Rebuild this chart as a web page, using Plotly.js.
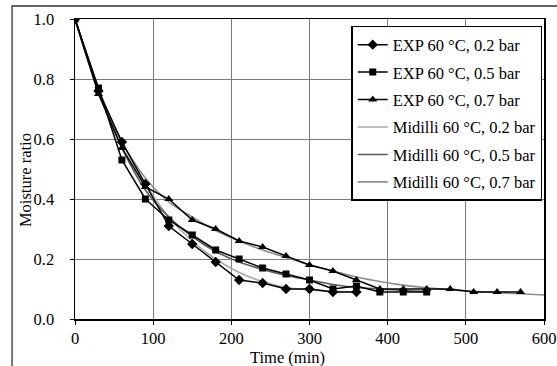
<!DOCTYPE html>
<html>
<head>
<meta charset="utf-8">
<script src="https://cdn.plot.ly/plotly-3.0.1.min.js"></script>
<style>html,body{margin:0;padding:0;background:#fff;}#chart{width:557px;height:366px;}</style>
</head>
<body>
<div id="chart"></div>
<script>
// Experimental data
const tExp02 = [0,30,60,90,120,150,180,210,240,270,300,330,360];
const mrExp02 = [1.0,0.76,0.59,0.45,0.31,0.25,0.19,0.13,0.12,0.10,0.10,0.09,0.09];
const tExp05 = [0,30,60,90,120,150,180,210,240,270,300,330,360,390,420,450];
const mrExp05 = [1.0,0.77,0.53,0.40,0.33,0.28,0.23,0.20,0.17,0.15,0.13,0.10,0.11,0.09,0.09,0.09];
const tExp07 = [0,30,60,90,120,150,180,210,240,270,300,330,360,390,420,450,480,510,540,570];
const mrExp07 = [1.0,0.75,0.57,0.44,0.40,0.33,0.30,0.26,0.24,0.21,0.18,0.16,0.13,0.10,0.10,0.10,0.10,0.09,0.09,0.09];
// Midilli model curves
const tMod02 = [0,30,60,90,120,150,180,210,240,270,300,330,360];
const mrMod02 = [1.0,0.77,0.59,0.45,0.34,0.26,0.20,0.155,0.125,0.105,0.097,0.092,0.09];
const tMod05 = [0,30,60,90,120,150,180,210,240,270,300,330,360,390,420,450];
const mrMod05 = [1.0,0.76,0.57,0.43,0.34,0.275,0.225,0.19,0.165,0.145,0.13,0.115,0.105,0.10,0.095,0.092];
const tMod07 = [0,30,60,90,120,150,180,210,240,270,300,330,360,390,420,450,480,510,540,570,600];
const mrMod07 = [1.0,0.76,0.59,0.47,0.39,0.34,0.295,0.26,0.23,0.205,0.18,0.16,0.14,0.125,0.113,0.104,0.097,0.092,0.088,0.084,0.08];

const names = ["EXP 60 °C, 0.2 bar","EXP 60 °C, 0.5 bar","EXP 60 °C, 0.7 bar",
               "Midilli 60 °C, 0.2 bar","Midilli 60 °C, 0.5 bar","Midilli 60 °C, 0.7 bar"];
const xTicks = [0,100,200,300,400,500,600];
const yTicks = [0,0.2,0.4,0.6,0.8,1.0];
const xLabel = "Time (min)";
const yLabel = "Moisture ratio";

const FONT = "'Liberation Serif', 'Times New Roman', Times, serif";

const traces = [
  {x:tMod02, y:mrMod02, name:names[3], mode:'lines', line:{color:'#a8a8a8', width:1.6, shape:'spline'}, legendrank:4, legendgroup:'g4'},
  {x:tMod05, y:mrMod05, name:names[4], mode:'lines', line:{color:'#5a5a5a', width:1.6, shape:'spline'}, legendrank:5, legendgroup:'g5'},
  {x:tMod07, y:mrMod07, name:names[5], mode:'lines', line:{color:'#8c8c8c', width:1.6, shape:'spline'}, legendrank:6, legendgroup:'g6'},
  {x:tExp02, y:mrExp02, name:names[0], mode:'lines+markers', line:{color:'#000', width:1.5}, marker:{symbol:'diamond', size:8, color:'#000'}, legendrank:1, legendgroup:'g1'},
  {x:tExp05, y:mrExp05, name:names[1], mode:'lines+markers', line:{color:'#000', width:1.5}, marker:{symbol:'square', size:7, color:'#000'}, legendrank:2, legendgroup:'g2'},
  {x:tExp07, y:mrExp07, name:names[2], mode:'lines+markers', line:{color:'#000', width:1.5}, marker:{symbol:'triangle-up', size:8, color:'#000'}, legendrank:3, legendgroup:'g3'}
];

const layout = {
  width:557, height:366,
  margin:{l:75, r:12.5, t:19, b:47},
  paper_bgcolor:'#fff', plot_bgcolor:'#fff',
  font:{family:FONT, size:16.5, color:'#000'},
  showlegend:true,
  legend:{x:0.589, y:0.977, xanchor:'left', yanchor:'top', bgcolor:'#fff', bordercolor:'#000', borderwidth:1.5,
          font:{family:FONT, size:16.5, color:'#000'}, tracegroupgap:3, traceorder:'grouped'},
  xaxis:{range:[0,600], tickvals:xTicks, ticktext:xTicks.map(String), ticks:'outside', ticklen:4, tickcolor:'#000',
         showgrid:true, gridcolor:'#7a7a7a', gridwidth:1, showline:true, linecolor:'#000', linewidth:1.5, mirror:true,
         zeroline:false, tickfont:{family:FONT, size:16.5, color:'#000'}},
  yaxis:{range:[0,1.0], tickvals:yTicks, ticktext:yTicks.map(v=>v.toFixed(1)), ticks:'outside', ticklen:4, tickcolor:'#000',
         ticklabelstandoff:12,
         showgrid:true, gridcolor:'#7a7a7a', gridwidth:1, showline:true, linecolor:'#000', linewidth:1.5, mirror:true,
         zeroline:false, tickfont:{family:FONT, size:16.5, color:'#000'}},
  annotations:[
    {text:xLabel, xref:'paper', yref:'paper', x:(288-75)/469.5, y:-(357-319)/300, xanchor:'center', yanchor:'middle', showarrow:false, font:{family:FONT, size:16.5, color:'#000'}},
    {text:yLabel, xref:'paper', yref:'paper', x:-(75-25)/469.5, y:(319-180)/300, xanchor:'center', yanchor:'middle', textangle:-90, showarrow:false, font:{family:FONT, size:16.5, color:'#000'}}
  ],
  shapes:[
    {type:'rect', xref:'paper', yref:'paper', x0:-(75-12)/469.5, x1:1.5, y0:-1, y1:(319-6)/300, line:{color:'#333', width:1.3}, fillcolor:'rgba(0,0,0,0)', layer:'below'}
  ]
};

Plotly.newPlot('chart', traces, layout, {staticPlot:true, displayModeBar:false});
</script>
</body>
</html>
